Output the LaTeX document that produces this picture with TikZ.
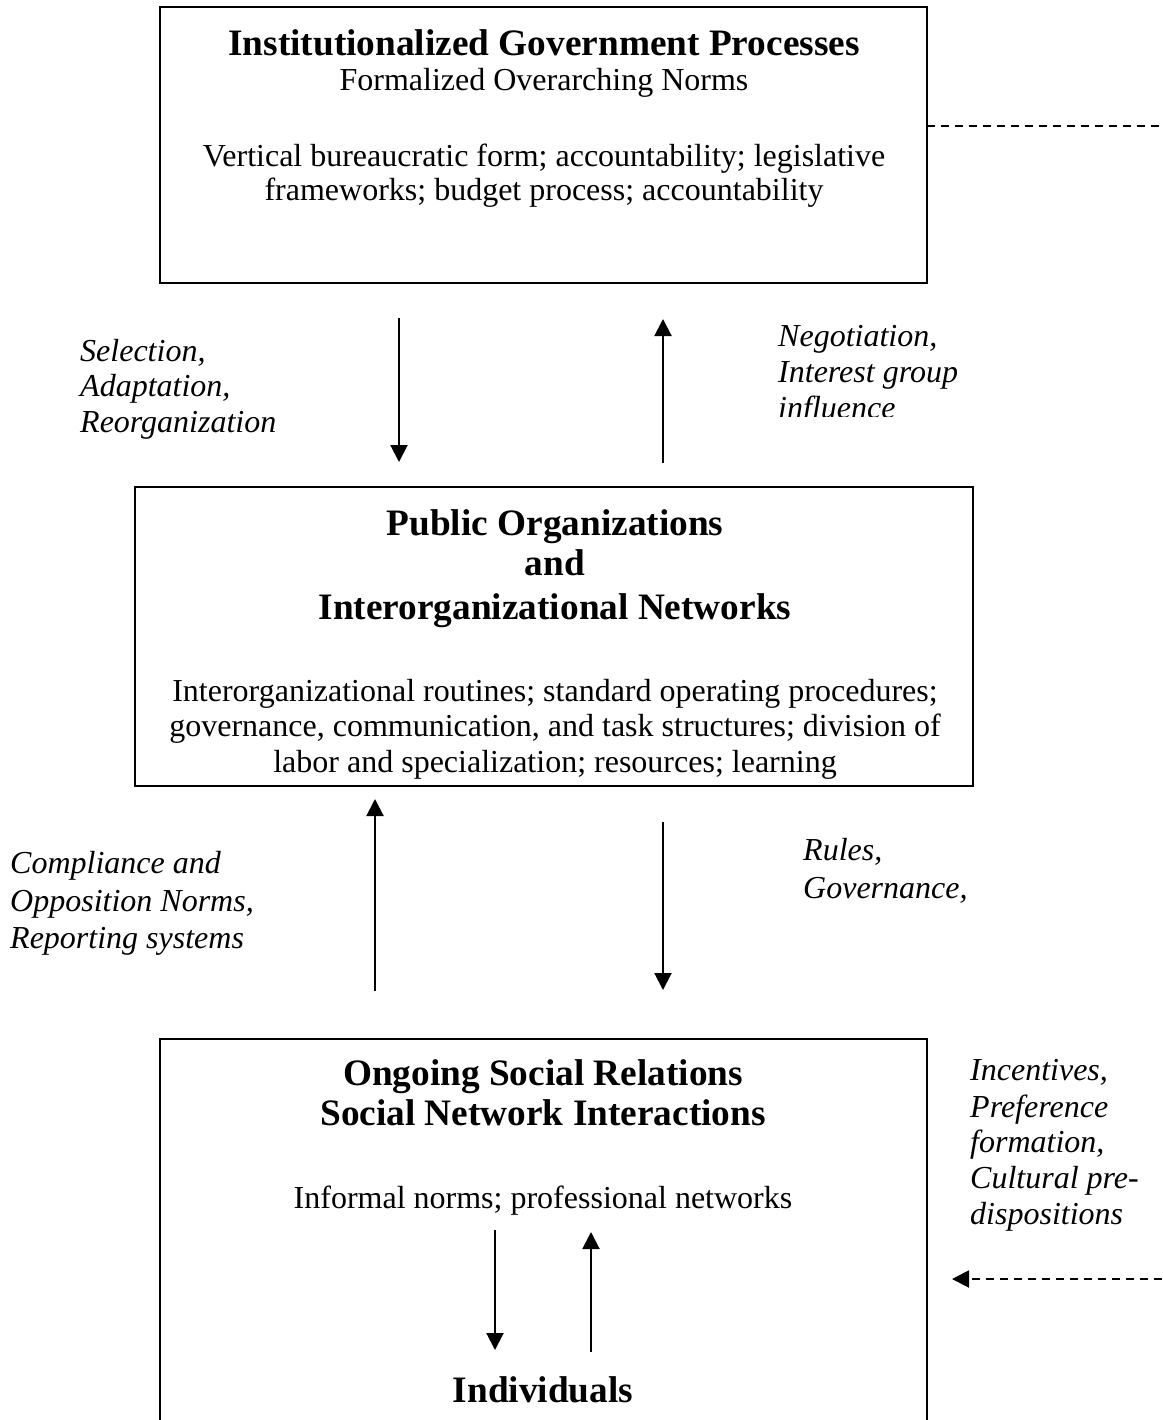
\documentclass[tikz,border=0pt]{standalone}
\usepackage{fontspec}
\setmainfont{Liberation Serif}
\usetikzlibrary{arrows.meta}
\begin{document}
\begin{tikzpicture}[x=1pt,y=-1pt,
  boxline/.style={draw, line width=2pt},
  hold/.style={inner sep=0pt, outer sep=0pt},
  body/.style={font=\fontsize{32}{36}\selectfont, anchor=base, inner sep=0pt},
  ttl/.style={font=\fontsize{37.3}{42}\selectfont\bfseries, anchor=base, inner sep=0pt},
  lbl/.style={font=\fontsize{32}{36}\selectfont\itshape, anchor=base west, inner sep=0pt},
  tip/.style={-{Triangle[length=17pt,width=17pt]}},
  arr/.style={line width=2pt, tip},
  dsh/.style={line width=2pt, dash pattern=on 8pt off 6pt}]
\useasboundingbox (0,0) rectangle (1162,1420);
% boxes
\node[boxline, hold, minimum width=767pt, minimum height=276pt] (gov) at (543.5,145) {};
\node[boxline, hold, minimum width=838pt, minimum height=299pt] (org) at (554,636.5) {};
\node[hold, minimum width=767pt, minimum height=381pt] (soc) at (543.5,1229.5) {};
\draw[line width=2pt] (soc.south west) |- (soc.north east) -- (soc.south east);
% top box text
\node[ttl] (govT) at (544,56) {Institutionalized Government Processes};
\node[body] (govS) at (544,91) {Formalized Overarching Norms};
\node[body] (govB1) at (544,167) {Vertical bureaucratic form; accountability; legislative};
\node[body] (govB2) at (544,201) {frameworks; budget process; accountability};
% middle box text
\node[ttl] (orgT1) at (555,535) {Public Organizations};
\node[ttl] (orgT2) at (555,575) {and};
\node[ttl] (orgT3) at (555,619) {Interorganizational Networks};
\node[body] (orgB1) at (555,701) {Interorganizational routines; standard operating procedures;};
\node[body] (orgB2) at (555,736) {governance, communication, and task structures; division of};
\node[body] (orgB3) at (555,772) {labor and specialization; resources; learning};
% bottom box text
\node[ttl] (socT1) at (543,1085) {Ongoing Social Relations};
\node[ttl] (socT2) at (543,1125) {Social Network Interactions};
\node[body] (socB) at (543,1208) {Informal norms; professional networks};
\node[ttl] (ind) at (543,1402) {Individuals};
% labels
\node[lbl] (sel1) at (80,361) {Selection,};
\node[lbl] (sel2) at (80,396) {Adaptation,};
\node[lbl] (sel3) at (80,432) {Reorganization};
\begin{scope}
\clip (700,300) rectangle (1100,416);
\node[lbl] (neg1) at (778,346) {Negotiation,};
\node[lbl] (neg2) at (778,382) {Interest group};
\node[lbl] (neg3) at (778,418) {influence};
\end{scope}
\node[lbl] (com1) at (10,873) {Compliance and};
\node[lbl] (com2) at (10,911) {Opposition Norms,};
\node[lbl] (com3) at (10,948) {Reporting systems};
\node[lbl] (rul1) at (803,860) {Rules,};
\node[lbl] (rul2) at (803,898) {Governance,};
\node[lbl] (inc1) at (970,1080) {Incentives,};
\node[lbl] (inc2) at (970,1117) {Preference};
\node[lbl] (inc3) at (970,1152) {formation,};
\node[lbl] (inc4) at (970,1188) {Cultural pre-};
\node[lbl] (inc5) at (970,1224) {dispositions};
% arrow endpoints
\coordinate (a1s) at (399,318); \coordinate (a1e) at (399,462);
\coordinate (a2s) at (663,463); \coordinate (a2e) at (663,319);
\coordinate (a3s) at (375,991); \coordinate (a3e) at (375,799);
\coordinate (a4s) at (663,822); \coordinate (a4e) at (663,990);
\coordinate (a5s) at (495,1230); \coordinate (a5e) at (495,1350);
\coordinate (a6s) at (591,1352); \coordinate (a6e) at (591,1232);
\coordinate (d1s) at (gov.east |- 0,126); \coordinate (d1e) at (1162,126);
\coordinate (d2s) at (1162,1279); \coordinate (d2e) at (952,1279);
\draw[arr] (a1s) -- (a1e);
\draw[arr] (a2s) -- (a2e);
\draw[arr] (a3s) -- (a3e);
\draw[arr] (a4s) -- (a4e);
\draw[arr] (a5s) -- (a5e);
\draw[arr] (a6s) -- (a6e);
\draw[dsh] (d1s) -- (d1e);
\draw[dsh, tip] (d2s) -- (d2e);
\end{tikzpicture}
\end{document}
